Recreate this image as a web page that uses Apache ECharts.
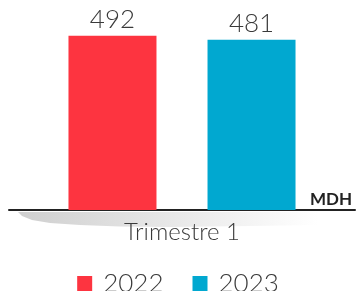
<!DOCTYPE html>
<html lang="fr">
<head>
  <meta charset="UTF-8">
  <title>chart</title>
  <style>
    html, body, #chart {
      margin: 0;
      padding: 0;
      width: 356px;
      height: 291px;
      background: #fff;
    }
  </style>
</head>
<body>
<div id="chart"></div>

<script src="https://cdn.jsdelivr.net/npm/echarts@6/dist/echarts.min.js"></script>
<script>
  var categories = ['Trimestre 1'];
  var seriesNames = ['2022', '2023'];
  var values2022 = [492];
  var values2023 = [481];
  var unit = 'MDH';

  var colors = ['#FD3440', '#01A8D0'];
  var thinFont = 'Lato';

  var chart = echarts.init(document.getElementById('chart'));

  var barLabel = {
    show: true,
    position: 'top',
    distance: 3,
    fontFamily: thinFont,
    fontWeight: 300,
    fontSize: 26,
    color: '#3a3a3a'
  };

  // ombre grise sous l'axe (decor)
  var shadowPoints = [[18, 212], [22, 216], [32, 220], [50, 223], [80, 225], [120, 226.5], [170, 227], [250, 226], [318, 225], [318, 212]];

  chart.setOption({
    animation: false,
    grid: { left: 9, right: 1, top: 33, bottom: 81 },
    legend: {
      top: 266,
      left: 'center',
      itemWidth: 15,
      itemHeight: 16,
      itemGap: 29,
      icon: 'rect',
      textStyle: { fontFamily: thinFont, fontWeight: 300, fontSize: 26, color: '#3a3a3a', padding: [0, 0, 0, 6] },
      data: seriesNames
    },
    xAxis: {
      type: 'category',
      data: categories,
      axisLine: { lineStyle: { color: '#222', width: 2 } },
      axisTick: { show: false },
      axisLabel: { fontFamily: thinFont, fontWeight: 300, fontSize: 24, color: '#3a3a3a', margin: 10 }
    },
    yAxis: {
      type: 'value',
      min: 0,
      max: 500,
      show: false,
      splitLine: { show: false }
    },
    graphic: [
      {
        type: 'polygon',
        z: -1,
        shape: { points: shadowPoints },
        style: {
          fill: {
            type: 'linear', x: 0, y: 0, x2: 1, y2: 0.3,
            colorStops: [
              { offset: 0, color: '#cfcfcf' },
              { offset: 0.6, color: '#ececec' },
              { offset: 1, color: '#ffffff' }
            ]
          }
        }
      },
      {
        type: 'text',
        right: 4,
        top: 191,
        style: { text: unit, fontFamily: 'Lato', fontWeight: 'bold', fontSize: 17, fill: '#222' }
      }
    ],
    series: [
      {
        name: seriesNames[0],
        type: 'bar',
        data: values2022,
        barWidth: 88,
        barGap: '58%',
        itemStyle: { color: colors[0] },
        label: barLabel
      },
      {
        name: seriesNames[1],
        type: 'bar',
        data: values2023,
        barWidth: 88,
        itemStyle: { color: colors[1] },
        label: barLabel
      }
    ]
  });
</script>
</body>
</html>
